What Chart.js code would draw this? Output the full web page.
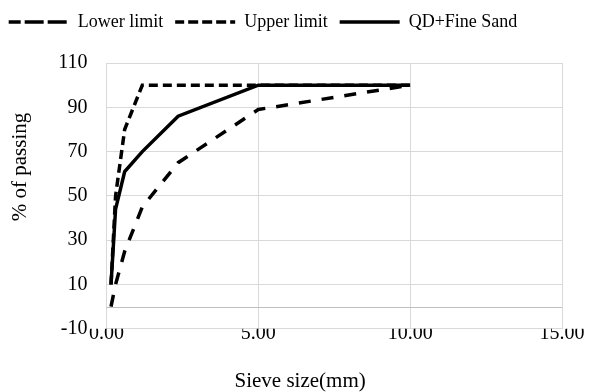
<!DOCTYPE html>
<html><head><meta charset="utf-8">
<script src="https://cdn.jsdelivr.net/npm/chart.js@4"></script>
<style>html,body{margin:0;padding:0;background:#fff}</style>
</head><body>
<canvas id="c" width="595" height="392" style="width:595px;height:392px;display:block"></canvas>
<script>
const sieveSizes = [0.15, 0.3, 0.6, 1.18, 2.36, 5, 10];
const lowerLimit = [0, 10, 25, 45, 65, 89, 100];
const upperLimit = [10, 50, 80, 100, 100, 100, 100];
const qdFineSand = [10, 44, 61, 70, 86, 100, 100];
const seriesNames = ['Lower limit', 'Upper limit', 'QD+Fine Sand'];
const xAxisTitle = 'Sieve size(mm)';
const yAxisTitle = '% of passing';

const FONT = '"Liberation Serif", "Times New Roman", serif';
Chart.defaults.font.family = FONT;
Chart.defaults.color = '#000';
const toPts = (ys) => ys.map((y, i) => ({x: sieveSizes[i], y}));

const zeroLine = {
  id: 'zeroLine',
  beforeDatasetsDraw(chart) {
    const {ctx, chartArea, scales} = chart;
    const y = Math.round(scales.y.getPixelForValue(0)) + 0.5;
    ctx.save();
    ctx.strokeStyle = '#bfbfbf';
    ctx.lineWidth = 1;
    ctx.beginPath();
    ctx.moveTo(chartArea.left, y);
    ctx.lineTo(chartArea.right, y);
    ctx.stroke();
    ctx.restore();
  }
};
const legendGap = {
  id: 'legendGap',
  beforeInit(chart) {
    const fit = chart.legend.fit;
    chart.legend.fit = function () { fit.bind(chart.legend)(); this.height += 22; };
  },
  afterLayout(chart) {
    chart.legend.left -= 18;
    chart.legend.right -= 18;
  }
};

new Chart(document.getElementById('c'), {
  type: 'line',
  data: {
    datasets: [
      {label: seriesNames[0], data: toPts(lowerLimit), borderColor: '#000', backgroundColor: '#000', borderWidth: 3.5, borderDash: [12, 11], pointRadius: 0, tension: 0},
      {label: seriesNames[1], data: toPts(upperLimit), borderColor: '#000', backgroundColor: '#000', borderWidth: 3.5, borderDash: [9, 5], pointRadius: 0, tension: 0},
      {label: seriesNames[2], data: toPts(qdFineSand), borderColor: '#000', backgroundColor: '#000', borderWidth: 3.5, pointRadius: 0, tension: 0}
    ]
  },
  options: {
    responsive: false,
    animation: false,
    layout: {padding: {left: 0, right: 33, top: 1, bottom: -2}},
    plugins: {
      legend: {
        position: 'top',
        labels: {boxWidth: 60, boxHeight: 0, padding: 12, color: '#000', font: {family: 'Liberation Serif', size: 18, weight: 'normal'}}
      },
      tooltip: {enabled: false}
    },
    scales: {
      x: {
        type: 'linear', min: 0, max: 15,
        border: {display: false},
        grid: {color: '#d9d9d9', lineWidth: 1, drawTicks: false},
        ticks: {stepSize: 5, padding: -7, color: '#000', font: {family: FONT, size: 20}, callback: v => Number(v).toFixed(2)},
        title: {display: true, text: xAxisTitle + '             ', color: '#000', font: {family: FONT, size: 21}, padding: {top: 30, bottom: 0}}
      },
      y: {
        min: -10, max: 110,
        border: {display: false},
        grid: {color: '#d9d9d9', lineWidth: 1, drawTicks: false},
        ticks: {stepSize: 20, padding: 19, color: '#000', font: {family: FONT, size: 20}},
        title: {display: true, text: '           ' + yAxisTitle, color: '#000', font: {family: FONT, size: 21}, padding: {top: 8, bottom: 6}}
      }
    }
  },
  plugins: [zeroLine, legendGap]
});
</script>
</body></html>
